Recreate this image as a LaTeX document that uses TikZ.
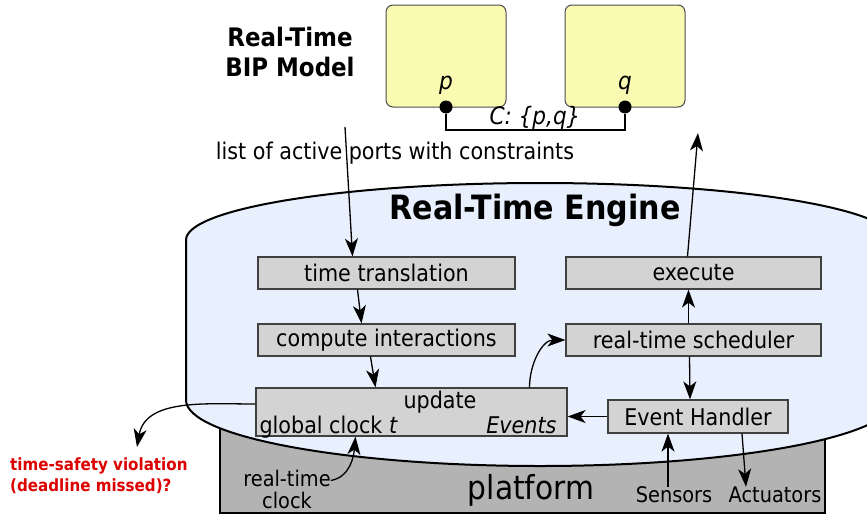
\documentclass[tikz,border=0pt]{standalone}
\usepackage{fontspec}
\setmainfont{DejaVu Sans Condensed}
\usetikzlibrary{arrows.meta}

\definecolor{compyellow}{RGB}{250,250,178}
\definecolor{enginebg}{RGB}{232,240,253}
\definecolor{boxgray}{RGB}{211,211,211}
\definecolor{platgray}{RGB}{179,179,179}
\definecolor{violred}{RGB}{220,0,0}

\tikzset{
  stepbox/.style={draw=black!75, fill=boxgray, line width=1.2pt, inner sep=0pt,
    font=\fontsize{23}{27}\selectfont},
  comp/.style={draw=black!70, fill=compyellow, rounded corners=7pt, line width=1pt,
    minimum width=120pt, minimum height=102pt},
  portdot/.style={circle, fill=black, inner sep=0pt, minimum size=13pt},
  arr/.style={-{Stealth[length=18pt,width=13pt,inset=5pt]}, line width=1.3pt},
  txt/.style={inner sep=0pt, font=\fontsize{21.5}{22}\selectfont},
}

\begin{document}
\begin{tikzpicture}[x=1pt, y=-1pt]
    \useasboundingbox (0,0) rectangle (867,517);
    \clip (0,0) rectangle (867,517);

    \node[comp] (B1) at (446,56) {};
    \node[comp] (B2) at (625,56) {};
    \node[portdot] (p) at (446,107) {};
    \node[portdot] (q) at (625,107) {};
    \node[txt, font=\fontsize{24}{28}\selectfont\itshape] (plbl) at (446,85) {p};
    \node[txt, font=\fontsize{24}{28}\selectfont\itshape] (qlbl) at (625,85) {q};
    \draw[line width=1.1pt] (p) -- (p |- 0,130) -| (q);
    \node[txt, font=\fontsize{24}{28}\selectfont\itshape] (conn) at (535,118) {C: \{p,q\}};
    \node[align=center, inner sep=0pt, font=\fontsize{25.5}{30}\selectfont\bfseries] (model) at (290,52) {Real-Time\\BIP Model};

    \node[txt, font=\fontsize{23}{27}\selectfont] (ports) at (395,153) {list of active ports with constraints};
    \coordinate (portsin) at (345,127);
    \coordinate (execout) at (698,133);

    \node[draw=black, fill=platgray, line width=1.3pt, minimum width=605pt, minimum height=88pt] (plat) at (522.5,469) {};

    \draw[line width=2pt, fill=enginebg] (186,240) arc[start angle=180, end angle=0, x radius=354pt, y radius=57pt]
        -- (894,400) arc[start angle=0, end angle=-180, x radius=354pt, y radius=66pt] -- cycle;
    \node[inner sep=0pt, font=\fontsize{33.5}{38}\selectfont\bfseries] (engine) at (535,210) {Real-Time Engine};

    \node[stepbox, minimum width=257pt, minimum height=32pt] (tt) at (386.5,273) {time translation};
    \node[stepbox, minimum width=257pt, minimum height=32pt] (ci) at (386.5,340) {compute interactions};
    \node[stepbox, minimum width=311pt, minimum height=48pt] (upd) at (411.5,412) {};
    \node[stepbox, draw=none, fill=none, anchor=base] (updtxt) at (440,408) {update};
    \node[stepbox, draw=none, fill=none, anchor=base west] (gclock) at (259,433) {global clock \textit{t}};
    \node[stepbox, draw=none, fill=none, anchor=base east, font=\fontsize{23}{27}\selectfont\itshape] (events) at (557,433) {Events};
    \node[stepbox, minimum width=255pt, minimum height=32pt] (exe) at (693.5,273) {execute};
    \node[stepbox, minimum width=255pt, minimum height=32pt] (sched) at (693.5,340) {real-time scheduler};
    \node[stepbox, minimum width=180pt, minimum height=33pt] (eh) at (698,416.5) {Event Handler};

    \node[inner sep=0pt, font=\fontsize{33}{38}\selectfont] (pltxt) at (531,490) {platform};
    \node[txt] (sens) at (674,495) {Sensors};
    \node[txt] (act) at (775,495) {Actuators};
    \node[txt, align=center] (rtc) at (287,489) {real-time\\clock};
    \node[inner sep=0pt, anchor=west, align=left, text=violred, font=\fontsize{16.8}{21}\selectfont\bfseries] (viol) at (10,476) {time-safety violation\\(deadline missed)?};
    \coordinate (violin) at (137,447);

    \draw[arr] (portsin) -- ([xshift=-34pt]tt.north);
    \draw[arr] ([xshift=-29pt]tt.south) -- ([xshift=-25pt]ci.north);
    \draw[arr] ([xshift=-16pt]ci.south) -- ([xshift=-36pt]upd.north);
    \draw[arr] ([xshift=118pt]upd.north) to[out=90, in=180] (sched.west);
    \draw[arr] ([xshift=-5pt]sched.north) -- ([xshift=-5pt]exe.south);
    \draw[arr] ([xshift=-6pt]exe.north) -- (execout);
    \draw[arr] ([xshift=-4pt]sched.south) -- ([xshift=-8pt]eh.north);
    \draw[arr] (eh.west) -- (eh.west -| upd.east);
    \draw[arr] ([xshift=-6pt]sens.north) -- ([xshift=-30pt]eh.south);
    \draw[arr] ([xshift=44pt]eh.south) -- ([xshift=-29pt]act.north);
    \draw[arr] ([yshift=-11pt]rtc.north east) to[out=10, in=-95] ([xshift=-56pt]upd.south);
    \draw[arr] ([yshift=8pt]upd.west) to[out=180, in=80] (violin);
\end{tikzpicture}
\end{document}
